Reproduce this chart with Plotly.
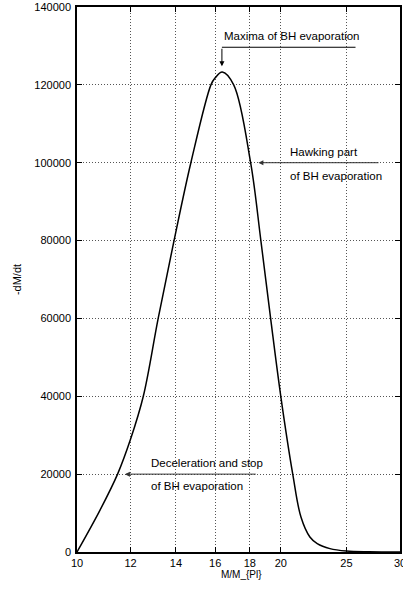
import numpy as np
import plotly.graph_objects as go

# Data
mass = [10, 10.81, 11.48, 12, 12.53, 13.18, 13.91, 14.73, 15.77, 16, 16.39,
        17.04, 18.05, 18.69, 19.32, 20, 20.83, 21.42, 22.08, 22.64, 23.64, 25, 27, 30]
rate = [0, 10700, 20000, 29000, 40000, 60000, 80000, 100000, 120000, 121800, 123300,
        120000, 100000, 80000, 60000, 40000, 20000, 8970, 3850, 2150, 870, 250, 60, 0]

x_ticks = [10, 12, 14, 16, 18, 20, 25, 30]
y_ticks = [0, 20000, 40000, 60000, 80000, 100000, 120000, 140000]

FONT = "Liberation Sans, Arial, sans-serif"

fig = go.Figure()
fig.add_trace(go.Scatter(x=mass, y=rate, mode="lines",
                         line=dict(color="black", width=1.5, shape="spline", smoothing=1.0),
                         showlegend=False, hoverinfo="skip"))

lx = np.log10
anns = []
txt = dict(showarrow=False, xanchor="left", yanchor="middle", xref="x", yref="y",
           font=dict(family=FONT, size=11.5, color="black"))
# Maxima label and bent arrow
anns.append(dict(text="Maxima of BH evaporation", x=lx(16.37), y=132600, **txt))
anns.append(dict(text="", x=lx(16.37), y=129660, ax=lx(25.92), ay=129660, axref="x", ayref="y",
                 xref="x", yref="y", showarrow=True, arrowhead=0, arrowwidth=1, arrowcolor="black",
                 standoff=0, startstandoff=0))
anns.append(dict(text="", x=lx(16.37), y=124800, ax=lx(16.37), ay=129660, axref="x", ayref="y",
                 xref="x", yref="y", showarrow=True, arrowhead=2, arrowsize=1, arrowwidth=1,
                 arrowcolor="black", standoff=0))
# Hawking part
anns.append(dict(text="Hawking part", x=lx(20.47), y=102740, **txt))
anns.append(dict(text="of BH evaporation", x=lx(20.47), y=96590, **txt))
anns.append(dict(text="", x=lx(18.53), y=100000, ax=lx(28.03), ay=100000, axref="x", ayref="y",
                 xref="x", yref="y", showarrow=True, arrowhead=2, arrowsize=1, arrowwidth=1,
                 arrowcolor="#333", standoff=0))
# Deceleration
anns.append(dict(text="Deceleration and stop", x=lx(12.79), y=22820, **txt))
anns.append(dict(text="of BH evaporation", x=lx(12.79), y=16850, **txt))
anns.append(dict(text="", x=lx(11.77), y=20000, ax=lx(18.46), ay=20000, axref="x", ayref="y",
                 xref="x", yref="y", showarrow=True, arrowhead=2, arrowsize=1, arrowwidth=1,
                 arrowcolor="#333", standoff=0))
# X axis title
anns.append(dict(text="M/M_{Pl}", xref="paper", yref="paper", x=0.51, y=-0.041,
                 xanchor="center", yanchor="middle", showarrow=False,
                 font=dict(family=FONT, size=10, color="black")))

axis_common = dict(showline=True, linecolor="black", linewidth=1.5, mirror="ticks",
                   ticks="inside", ticklen=5, tickcolor="black", automargin=False,
                   ticklabeloverflow="allow",
                   showgrid=True, gridcolor="#555", gridwidth=1, griddash="1px,2px",
                   zeroline=False, tickfont=dict(family=FONT, size=11, color="black"))

fig.update_layout(
    width=403, height=594,
    margin=dict(l=77, r=3, t=7, b=42),
    paper_bgcolor="white", plot_bgcolor="white",
    font=dict(family=FONT, size=11, color="black"),
    annotations=anns,
    xaxis=dict(type="log", range=[lx(10), lx(30)], tickvals=x_ticks,
               ticktext=[str(v) for v in x_ticks], **axis_common),
    yaxis=dict(range=[0, 140000], tickvals=y_ticks, tickformat="d", ticklabelstandoff=2,
               title=dict(text="-dM/dt", standoff=10, font=dict(family=FONT, size=11)),
               **axis_common),
)

fig.write_html("out.html", config={"displayModeBar": False},
               post_script="document.body.style.margin='0px';")
